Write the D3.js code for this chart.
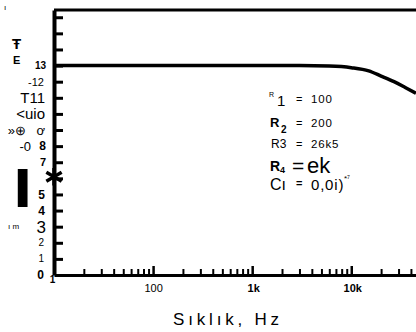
<!DOCTYPE html>
<html>
<head>
<meta charset="utf-8">
<script src="https://cdn.jsdelivr.net/npm/d3@7"></script>
<style>
  body { margin: 0; background: #fff; }
  svg { display: block; font-family: "Liberation Sans", Arial, sans-serif; }
</style>
</head>
<body>
<div id="chart"></div>
<script>
// response curve (frequency in Hz, gain)
const freqs = [10, 100, 1000, 3000, 6000, 10000, 15000, 20000, 27000, 35000, 45000];
const gains = [13, 13, 13, 13, 12.97, 12.87, 12.67, 12.35, 12.0, 11.64, 11.28];

// single marker on the left edge
const markerFreq = 10;
const markerGain = 6.1;

// x tick values and the labels printed under them
const xTickValues = [10, 100, 1000, 10000];
const xTickLabels = ["1", "100", "1k", "10k"];

// y ticks and the (scanned) labels beside them
const yTickValues = d3.range(1, 17);
const yLabelValues = [0, 1, 2, 3, 4, 5, 7, 8, 8, 9, 9, 10, 11, 12, 13];
const yLabelTexts = ["0", "1", "2", "3", "4", "5", "7", "8", "-0", "»⊕", "ơ", "<uio", "T11", "-12", "13"];

// component values block
const compNames = ["R", "R", "R3", "R", "Cı"];
const compSubs = ["1", "2", "", "4", ""];
const compValues = ["100", "200", "26k5", "ek", "0,0i)"];

const width = 416;
const height = 332;

const svg = d3.select("#chart")
              .append("svg")
              .attr("width", width)
              .attr("height", height);

const x = d3.scaleLog()
            .domain([10, 45000])
            .range([54, 416]);

const y = d3.scaleLinear()
            .domain([0, 16.45])
            .range([275, 10]);

// minor log ticks on the bottom axis
const minorTicks = [];
[10, 100, 1000, 10000].forEach(dec => {
  for (let d = 2; d <= 9; d++) if (d * dec < 45000) minorTicks.push(d * dec);
});

// bottom axis: minor and major ticks pointing up
svg.append("g")
   .attr("transform", `translate(0, ${y(0)})`)
   .call(d3.axisTop(x).tickValues(minorTicks).tickSize(6).tickSizeOuter(0).tickFormat(() => ""))
   .call(g => g.select(".domain").remove())
   .call(g => g.selectAll(".tick line").attr("stroke", "#000").attr("stroke-width", 2));

svg.append("g")
   .attr("transform", `translate(0, ${y(0)})`)
   .call(d3.axisTop(x).tickValues(xTickValues.slice(1)).tickSize(9).tickSizeOuter(0).tickFormat(() => ""))
   .call(g => g.select(".domain").attr("stroke", "#000").attr("stroke-width", 3))
   .call(g => g.selectAll(".tick line").attr("stroke", "#000").attr("stroke-width", 2.5));

// x tick labels
svg.append("g")
   .attr("transform", `translate(0, ${y(0)})`)
   .call(d3.axisBottom(x).tickValues(xTickValues).tickSize(0)
           .tickFormat((d, i) => xTickLabels[i]))
   .call(g => g.select(".domain").remove())
   .call(g => g.selectAll("text")
      .attr("fill", "#000")
      .attr("font-family", "Liberation Sans, Arial, sans-serif")
      .attr("font-size", (d, i) => i === 0 ? 10 : 11)
      .attr("font-weight", (d, i) => i === 1 ? "normal" : "bold")
      .attr("dx", (d, i) => i === 0 ? -2 : (i === 1 ? 0 : 1))
      .attr("dy", (d, i) => i === 0 ? "0.5em" : "1.3em"));

// left axis with inward ticks
svg.append("g")
   .attr("transform", `translate(${x(10)}, 0)`)
   .call(d3.axisRight(y).tickValues(yTickValues).tickSize(9).tickSizeOuter(0).tickFormat(() => ""))
   .call(g => g.select(".domain").attr("stroke", "#000").attr("stroke-width", 4))
   .call(g => g.selectAll(".tick line").attr("stroke", "#000").attr("stroke-width", 3));

// top frame line
svg.append("line")
   .attr("x1", x(10)).attr("x2", x(45000))
   .attr("y1", y(16.45)).attr("y2", y(16.45))
   .attr("stroke", "#000").attr("stroke-width", 3);

// y labels (styles per label)
const yStyle = {
  "0": { x: 44, size: 12, bold: true },
  "1": { x: 44, size: 10 },
  "2": { x: 44, size: 10 },
  "3": { x: 46, size: 17 },
  "4": { x: 45, size: 12, bold: true },
  "5": { x: 45, size: 12, bold: true },
  "7": { x: 46, size: 11, bold: true },
  "8": { x: 46, size: 12, bold: true },
  "-0": { x: 31, size: 13 },
  "»⊕": { x: 26, size: 13 },
  "ơ": { x: 45, size: 13 },
  "<uio": { x: 45, size: 15 },
  "T11": { x: 45, size: 15 },
  "-12": { x: 44, size: 11 },
  "13": { x: 46, size: 10, bold: true }
};

svg.append("g")
   .selectAll("text")
   .data(yLabelValues.map((v, i) => ({ v, t: yLabelTexts[i] })))
   .join("text")
   .attr("x", d => yStyle[d.t].x)
   .attr("y", d => y(d.v))
   .attr("dy", "0.36em")
   .attr("text-anchor", "end")
   .attr("font-size", d => yStyle[d.t].size)
   .attr("font-weight", d => yStyle[d.t].bold ? "bold" : "normal")
   .text(d => d.t);

// scanner debris on the left
svg.append("text").attr("x", 12).attr("y", 49)
   .attr("font-size", 15).attr("font-weight", "bold").text("Ŧ");
svg.append("text").attr("x", 13).attr("y", 64)
   .attr("font-size", 11).attr("font-weight", "bold").text("E");

svg.append("text").attr("x", 13).attr("y", 207)
   .attr("font-family", "DejaVu Sans").attr("font-size", 52).attr("font-weight", "bold").text("I");
svg.append("text").attr("x", 8).attr("y", 229)
   .attr("font-size", 8).text("ı m");

svg.append("text").attr("x", 4).attr("y", 10)
   .attr("font-size", 8).text("ı");

// response curve
const line = d3.line()
               .x((d, i) => x(freqs[i]))
               .y(d => y(d))
               .curve(d3.curveMonotoneX);

svg.append("path")
   .datum(gains)
   .attr("fill", "none")
   .attr("stroke", "#000")
   .attr("stroke-width", 3.5)
   .attr("d", line);

// marker
svg.append("path")
   .attr("transform", `translate(${x(markerFreq)}, ${y(markerGain)})`)
   .attr("d", d3.symbol(d3.symbolAsterisk, 220)())
   .attr("stroke", "#000")
   .attr("stroke-width", 3.5);

// component values block
const comp = svg.append("g").attr("fill", "#000");
const rowY = [103, 127, 148, 173, 190];

// row 1
comp.append("text").attr("x", 269).attr("y", 97).attr("font-size", 7).text(compNames[0]);
comp.append("text").attr("x", 277).attr("y", 106).attr("font-size", 15).text(compSubs[0]);
// row 2
comp.append("text").attr("x", 270).attr("y", rowY[1]).attr("font-size", 13)
    .attr("font-weight", "bold").text(compNames[1]);
comp.append("text").attr("x", 281).attr("y", rowY[1] + 6).attr("font-size", 10)
    .attr("font-weight", "bold").text(compSubs[1]);
// row 3
comp.append("text").attr("x", 271).attr("y", rowY[2]).attr("font-size", 12).text(compNames[2]);
// row 4
comp.append("text").attr("x", 270).attr("y", rowY[3] - 2).attr("font-size", 14)
    .attr("font-weight", "bold").text(compNames[3]);
comp.append("text").attr("x", 280).attr("y", rowY[3]).attr("font-size", 9)
    .attr("font-weight", "bold").text(compSubs[3]);
// row 5
comp.append("text").attr("x", 270).attr("y", rowY[4]).attr("font-size", 16).text(compNames[4]);

// equals signs and values
const eqSize = [11, 11, 11, 21, 11];
const valSize = [11.5, 11.5, 11.5, 22, 15];
compValues.forEach((v, i) => {
  comp.append("text").attr("x", i === 3 ? 292 : 296).attr("y", rowY[i] - (i === 4 ? 3 : 0))
      .attr("font-size", eqSize[i]).attr("font-weight", i === 4 ? "bold" : "normal").text("=");
  comp.append("text").attr("x", i === 3 ? 307 : 311).attr("y", rowY[i])
      .attr("font-size", valSize[i])
      .attr("letter-spacing", i === 3 ? 0 : 0.8)
      .text(v);
});
comp.append("text").attr("x", 344).attr("y", 181).attr("font-size", 8).text("*⁷");

// x axis title
svg.append("text")
   .attr("x", 228)
   .attr("y", 325)
   .attr("text-anchor", "middle")
   .attr("font-size", 17)
   .attr("letter-spacing", 3.8)
   .text("Sıklık, Hz");
</script>
</body>
</html>
